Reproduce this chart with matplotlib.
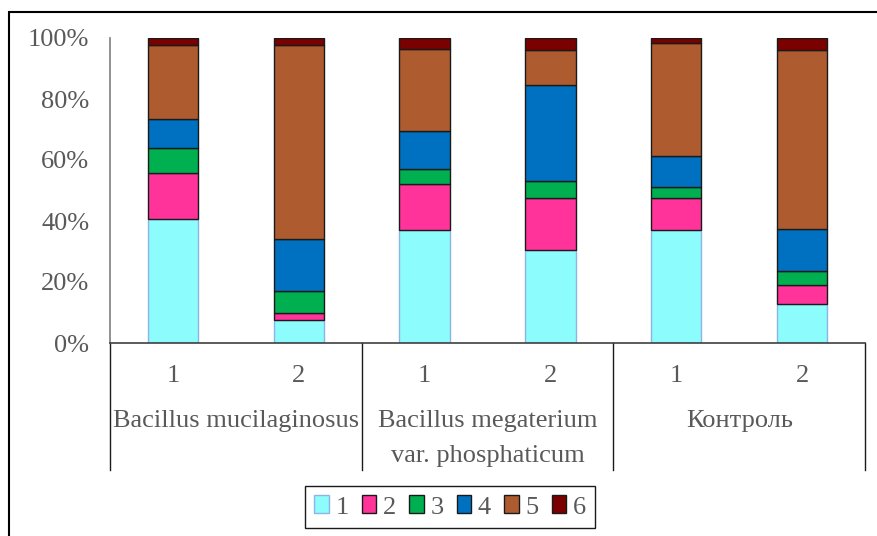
import numpy as np
import matplotlib
matplotlib.use('Agg')
from matplotlib import pyplot as plt
from matplotlib.patches import Rectangle

# данные (%)
groups = ['Bacillus mucilaginosus', 'Bacillus megaterium\nvar. phosphaticum', 'Контроль']
sub_labels = ['1', '2', '1', '2', '1', '2']
series_names = ['1', '2', '3', '4', '5', '6']
s1 = [40.7, 7.7, 36.9, 30.6, 36.9, 12.8]
s2 = [15.1, 2.0, 15.1, 16.8, 10.8, 6.2]
s3 = [8.2, 7.5, 5.0, 5.8, 3.5, 4.7]
s4 = [9.3, 16.9, 12.4, 31.4, 10.2, 13.6]
s5 = [24.3, 63.5, 27.1, 11.5, 36.8, 58.9]
s6 = [2.4, 2.4, 3.5, 3.9, 1.8, 3.8]
yticks = [0, 20, 40, 60, 80, 100]

series = [s1, s2, s3, s4, s5, s6]
colors = ['#8CFCFC', '#FF3399', '#00B050', '#0070C0', '#AE5B2F', '#7B0000']
edges = ['#8DB4E2', '#1a1a1a', '#1a1a1a', '#1a1a1a', '#1a1a1a', '#1a1a1a']
txt = '#595959'
fs = 19

plt.rcParams['font.family'] = ['Liberation Serif', 'DejaVu Serif']

W, H = 878, 536
fig = plt.figure(figsize=(W / 100, H / 100), dpi=100)
ax = fig.add_axes([110 / W, 1 - 343 / H, (865 - 110) / W, (343 - 38) / H])

x = np.arange(len(sub_labels)) + 0.5
bottom = np.zeros(len(sub_labels))
for name, vals, c, ec in zip(series_names, series, colors, edges):
    ax.bar(x, vals, 0.4, bottom=bottom, color=c, edgecolor=ec, linewidth=1.0, label=name)
    bottom += np.array(vals)

ax.set_xlim(0, len(sub_labels))
ax.set_ylim(0, 100)
ax.set_yticks(yticks)
ax.set_yticklabels([f'{v}%' for v in yticks], fontsize=fs, color=txt)
ax.tick_params(axis='y', length=0, pad=15)
ax.set_xticks([])
for s in ['top', 'right']:
    ax.spines[s].set_visible(False)
ax.spines['left'].set_color('#7f7f7f')
ax.spines['bottom'].set_color('#404040')
ax.spines['left'].set_linewidth(1.2)
ax.spines['bottom'].set_linewidth(1.2)

# подписи категорий (два уровня)
tr = ax.get_xaxis_transform()
for xi, lab in zip(x, sub_labels):
    ax.text(xi, -0.108, lab, transform=tr, ha='center', va='center', fontsize=fs, color=txt)
for i, g in enumerate(groups):
    ax.text(2 * i + 1, -0.22, g, transform=tr, ha='center', va='top', fontsize=fs,
            color=txt, linespacing=1.75)
for xs in range(0, len(sub_labels) + 1, 2):
    ax.plot([xs, xs], [0, -0.418], transform=tr, color='#1a1a1a', lw=1.0, clip_on=False)

leg = fig.legend(loc='center', bbox_to_anchor=(450 / W, 1 - 507 / H), ncol=6,
                 fontsize=fs, handlelength=0.55, handleheight=0.65, handletextpad=0.25,
                 columnspacing=0.5, borderpad=0.35, fancybox=False, framealpha=1)
leg.get_frame().set_edgecolor('#1a1a1a')
for t in leg.get_texts():
    t.set_color(txt)

# рамка
fig.patches.append(Rectangle((9 / W, -0.2), 1.2, 1.2 - 12 / H, transform=fig.transFigure,
                             fill=False, edgecolor='black', lw=1.5))

plt.savefig('out.png', dpi=100)
